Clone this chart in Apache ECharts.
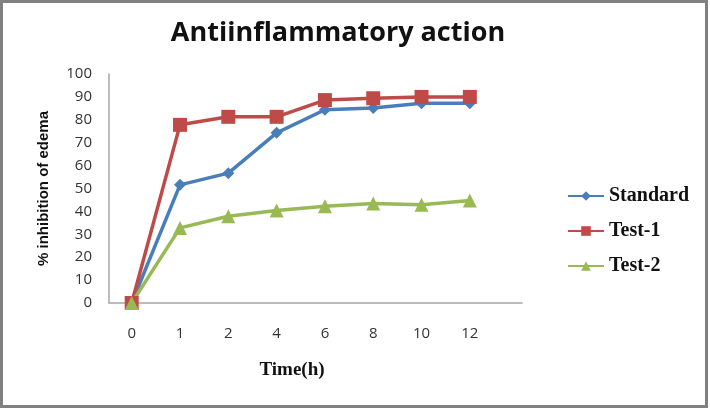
<!DOCTYPE html>
<html>
<head>
<meta charset="utf-8">
<script src="https://cdn.jsdelivr.net/npm/echarts@6/dist/echarts.min.js"></script>
<style>
    html, body { margin: 0; padding: 0; background: #fff; }
    #main { width: 710px; height: 409px; }
</style>
</head>
<body>
<div id="main"></div>
<script>
// 数据
var timeLabels = ['0', '1', '2', '4', '6', '8', '10', '12'];
var yTicks = [0, 10, 20, 30, 40, 50, 60, 70, 80, 90, 100];
var standardVals = [0, 51.6, 56.7, 74.3, 84.4, 85.2, 87.2, 87.2];
var test1Vals = [0, 77.8, 81.3, 81.3, 88.6, 89.4, 90.0, 90.0];
var test2Vals = [0, 32.8, 37.9, 40.4, 42.2, 43.4, 42.9, 44.8];

// 把类别下标配成点
function toPoints(vals) {
    var pts = [];
    for (var i = 0; i < vals.length; i++) {
        pts.push([i, vals[i]]);
    }
    return pts;
}

var chart = echarts.init(document.getElementById('main'));
chart.setOption({
    animation: false,
    backgroundColor: '#fff',
    title: [
        {
            text: 'Antiinflammatory action',
            left: 333,
            top: 15,
            textAlign: 'center',
            textStyle: {
                fontFamily: 'Open Sans',
                fontWeight: 'bold',
                fontSize: 27,
                color: '#111'
            }
        },
        {
            text: 'Time(h)',
            left: 287,
            top: 356,
            textAlign: 'center',
            textStyle: {
                fontFamily: 'Liberation Serif',
                fontWeight: 'bold',
                fontSize: 19,
                color: '#111'
            }
        }
    ],
    graphic: [{
        type: 'rect',
        shape: { x: 1.5, y: 1.5, width: 705, height: 405 },
        style: { fill: null, stroke: '#808080', lineWidth: 3 },
        silent: true,
        z: 100
    }],
    grid: {
        left: 109,
        right: 188,
        top: 74,
        bottom: 106
    },
    legend: {
        orient: 'vertical',
        left: 562,
        top: 181,
        itemWidth: 36,
        itemHeight: 12,
        itemGap: 15,
        textStyle: {
            fontFamily: 'Liberation Serif',
            fontWeight: 'bold',
            fontSize: 20,
            color: '#111'
        },
        data: ['Standard', 'Test-1', 'Test-2']
    },
    xAxis: {
        type: 'value',
        min: -0.47,
        max: 8.08,
        splitLine: { show: false },
        axisTick: { show: false },
        axisLine: { lineStyle: { color: '#a6a6a6', width: 1.5 } },
        axisLabel: {
            customValues: [0, 1, 2, 3, 4, 5, 6, 7],
            margin: 23,
            fontFamily: 'Open Sans',
            fontSize: 15,
            color: '#333',
            formatter: function (v) {
                return timeLabels[Math.round(v)];
            }
        }
    },
    yAxis: {
        type: 'value',
        min: yTicks[0],
        max: yTicks[yTicks.length - 1],
        interval: 10,
        name: '% inhibition of edema',
        nameLocation: 'middle',
        nameGap: 58,
        nameTextStyle: {
            fontFamily: 'Liberation Sans',
            fontWeight: 'bold',
            fontSize: 15,
            color: '#111'
        },
        splitLine: { show: false },
        axisTick: { show: false },
        axisLine: { show: true, onZero: false, lineStyle: { color: '#a6a6a6', width: 1.5 } },
        axisLabel: {
            margin: 17,
            fontFamily: 'Open Sans',
            fontSize: 15,
            color: '#333'
        }
    },
    series: [
        {
            name: 'Standard',
            type: 'line',
            data: toPoints(standardVals),
            symbol: 'diamond',
            symbolSize: 12,
            lineStyle: { color: '#4a7ebb', width: 3.5 },
            itemStyle: { color: '#4a7ebb' }
        },
        {
            name: 'Test-1',
            type: 'line',
            data: toPoints(test1Vals),
            symbol: 'rect',
            symbolSize: 14,
            lineStyle: { color: '#be4b48', width: 3.5 },
            itemStyle: { color: '#be4b48' }
        },
        {
            name: 'Test-2',
            type: 'line',
            data: toPoints(test2Vals),
            symbol: 'triangle',
            symbolSize: 14,
            lineStyle: { color: '#98b954', width: 3.5 },
            itemStyle: { color: '#98b954' }
        }
    ]
});
</script>
</body>
</html>
